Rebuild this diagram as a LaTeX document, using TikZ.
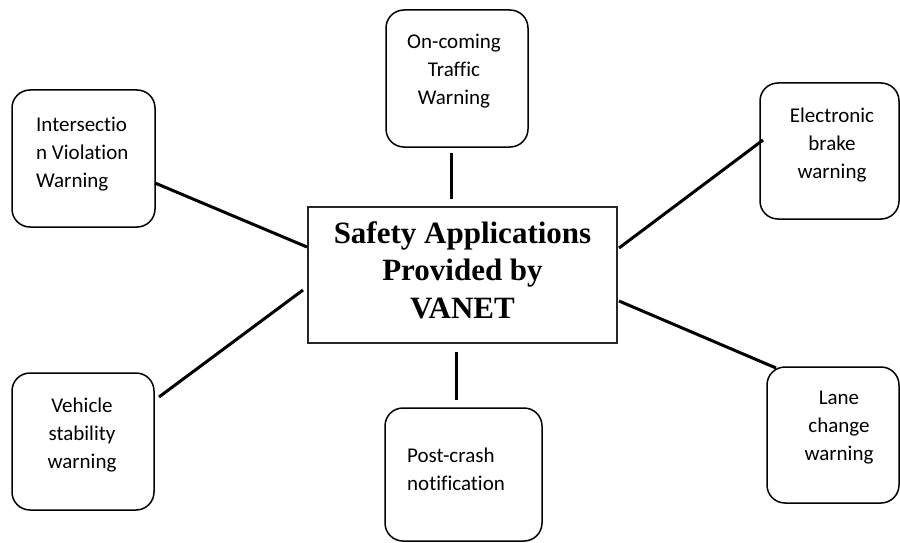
\documentclass[tikz,border=0pt]{standalone}
\usepackage{fontspec}
\setmainfont{Liberation Serif}
\newfontfamily\boxfont[Ligatures=NoCommon]{Carlito}
\begin{document}
\begin{tikzpicture}[x=1pt,y=-1pt,
  appbox/.style={draw=black,line width=1.5pt,rounded corners=18pt,inner sep=0pt},
  mainbox/.style={draw=black!85,line width=1.4pt,inner sep=0pt,minimum width=309pt,minimum height=136pt},
  apptext/.style={inner sep=0pt,font=\boxfont\fontsize{21}{28}\selectfont},
  maintext/.style={inner sep=0pt,align=center,font=\bfseries\fontsize{31}{37.5}\selectfont},
  conn/.style={draw=black,line width=3pt}]
\useasboundingbox (0,0) rectangle (900,543);
% boxes
\node[mainbox] (main) at (462.5,275) {};
\node[appbox,minimum width=143pt,minimum height=137pt] (inter) at (83.5,158.5) {};
\node[appbox,minimum width=142pt,minimum height=137pt] (onc) at (457,78.5) {};
\node[appbox,minimum width=139pt,minimum height=136pt] (ebw) at (829.5,151) {};
\node[appbox,minimum width=142pt,minimum height=137pt] (vsw) at (83,441.5) {};
\node[appbox,minimum width=157pt,minimum height=133pt] (pcn) at (463.5,474.5) {};
\node[appbox,minimum width=132pt,minimum height=136pt] (lcw) at (833,435) {};
% texts
\node[maintext] (maint) at (462.5,270) {Safety Applications\\Provided by\\VANET};
\node[apptext,align=left,anchor=west] (intert) at (36,154) {Intersectio\\n Violation\\Warning};
\node[apptext,align=center] (onct) at (454,71) {On-coming\\Traffic\\Warning};
\node[apptext,align=center] (ebwt) at (832,145) {Electronic\\brake\\warning};
\node[apptext,align=center] (vswt) at (82,435) {Vehicle\\stability\\warning};
\node[apptext,align=left,anchor=west] (pcnt) at (407,469) {Post-crash\\notification};
\node[apptext,align=center] (lcwt) at (839,428) {Lane\\change\\warning};
% connector end points
\coordinate (a1) at (155,183);  \coordinate (a2) at (307,247);
\coordinate (b1) at (451,153);  \coordinate (b2) at (451,199);
\coordinate (c1) at (763,140);  \coordinate (c2) at (619,248);
\coordinate (d1) at (159,397);  \coordinate (d2) at (303,290);
\coordinate (e1) at (456,400);  \coordinate (e2) at (456,352);
\coordinate (f1) at (776,368);  \coordinate (f2) at (619,301);
% connectors
\draw[conn] (a1) -- (a2);
\draw[conn] (b1) -- (b2);
\draw[conn] (c1) -- (c2);
\draw[conn] (d1) -- (d2);
\draw[conn] (e1) -- (e2);
\draw[conn] (f1) -- (f2);
\end{tikzpicture}
\end{document}
